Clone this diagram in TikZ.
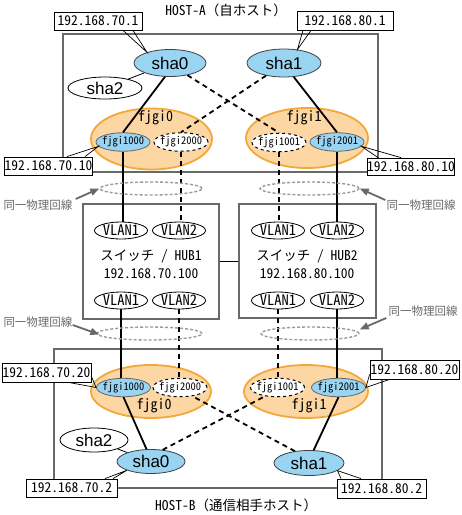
\documentclass[tikz,border=0pt]{standalone}
\usepackage{fontspec}
\setmainfont{Noto Sans CJK JP}
\newfontfamily\jpf{Noto Sans CJK JP}
\newfontfamily\hwf[RawFeature=+hwid]{Noto Sans CJK JP}
\newfontfamily\arf{Liberation Sans}
\usetikzlibrary{shapes.geometric,arrows.meta,calc}
\definecolor{skyb}{RGB}{153,212,242}
\definecolor{orfill}{RGB}{252,214,163}
\definecolor{ordraw}{RGB}{243,168,58}
\definecolor{hostgray}{RGB}{105,105,105}
\definecolor{dotgray}{RGB}{155,155,155}
\definecolor{labgray}{RGB}{105,105,105}
\begin{document}
\begin{tikzpicture}[x=1pt,y=-1pt,
  hostbox/.style={draw=hostgray,line width=1.1pt},
  hubbox/.style={rectangle,draw=hostgray,line width=1.1pt,fill=white,inner sep=0pt},
  oell/.style={ellipse,draw=ordraw,fill=orfill,line width=1.8pt,inner sep=0pt},
  shab/.style={ellipse,draw=black!75,fill=skyb,line width=0.8pt,inner sep=-6pt,font=\arf\fontsize{17}{17}\selectfont},
  shaw/.style={ellipse,draw=black,fill=white,line width=0.8pt,inner sep=-6pt,font=\arf\fontsize{17}{17}\selectfont},
  fb/.style={ellipse,draw=black!60,fill=skyb,line width=0.8pt,inner sep=-6pt,minimum width=54pt,minimum height=18.5pt,font=\hwf\fontsize{10.5}{10.5}\selectfont},
  fw/.style={ellipse,draw=black,dashed,fill=white,line width=1pt,inner sep=-6pt,minimum width=54pt,minimum height=18.5pt,font=\hwf\fontsize{10.5}{10.5}\selectfont},
  vlan/.style={ellipse,draw=black,fill=white,line width=0.8pt,inner sep=-6pt,minimum width=53pt,minimum height=17pt,font=\hwf\fontsize{14.5}{14.5}\selectfont},
  gname/.style={font=\hwf\fontsize{14}{14}\selectfont,inner sep=0pt},
  hubtxt/.style={font=\fontsize{13.5}{13.5}\selectfont,inner sep=0pt},
  title/.style={font=\fontsize{13.5}{13.5}\selectfont,inner sep=0pt},
  iplab/.style={rectangle,draw=black,fill=white,line width=0.8pt,inner sep=0pt,minimum height=18pt,font=\hwf\fontsize{13.5}{13.5}\selectfont},
  solidc/.style={line width=1.8pt,draw=black},
  dashc/.style={line width=1.8pt,draw=black,dash pattern=on 5pt off 4pt},
  dotell/.style={ellipse,draw=dotgray,line width=1.4pt,dash pattern=on 3pt off 2pt,inner sep=0pt},
  samelab/.style={font=\jpf\fontsize{11.5}{11.5}\selectfont,text=labgray,inner sep=0pt},
  garrow/.style={draw=labgray,line width=1.8pt,-{Triangle[length=9pt,width=7pt]}},
  callline/.style={draw=black,line width=0.7pt}
]
\useasboundingbox (0,0) rectangle (462,515);
\fill[white] (0,0) rectangle (462,515);

% host frames
\draw[hostbox] (63,34) rectangle (378,172);
\draw[hostbox] (54,349) rectangle (382,488);
\node[title] (ta) at (226,10) {{\hwf HOST-A}（自ホスト）};
\node[title] (tb) at (236,505) {{\hwf HOST-B}（通信相手ホスト）};

% hubs
\node[hubbox,minimum width=136pt,minimum height=115pt] (hub1) at (151,261.5) {};
\node[hubbox,minimum width=137pt,minimum height=114pt] (hub2) at (307.5,261) {};
\draw[line width=0.8pt] (hub1.east) -- (hub1.east -| hub2.west);
\node[hubtxt] (h1a) at (151,256) {スイッチ{\hwf\ / HUB1}};
\node[hubtxt] (h1b) at (151,273.5) {\hwf 192.168.70.100};
\node[hubtxt] (h2a) at (307,256) {スイッチ{\hwf\ / HUB2}};
\node[hubtxt] (h2b) at (307,273.5) {\hwf 192.168.80.100};
\node[vlan] (v11) at (121,230.5) {VLAN1};
\node[vlan] (v21) at (179,230.5) {VLAN2};
\node[vlan] (v12) at (121,300.5) {VLAN1};
\node[vlan] (v22) at (179,300.5) {VLAN2};
\node[vlan] (w11) at (278,230.5) {VLAN1};
\node[vlan] (w21) at (337,230.5) {VLAN2};
\node[vlan] (w12) at (278,300.5) {VLAN1};
\node[vlan] (w22) at (337,300.5) {VLAN2};

% HOST-A
\node[oell,minimum width=121pt,minimum height=61pt] (og0) at (151.5,139) {};
\node[oell,minimum width=122pt,minimum height=60pt] (og1) at (307,138) {};
\node[gname] (tg0) at (155.5,118) {fjgi0};
\node[gname] (tg1) at (304,118) {fjgi1};
\node[fb] (f1000) at (123,142) {fjgi1000};
\node[fw] (f2000) at (181,142) {fjgi2000};
\node[fw] (f1001) at (279,142.5) {fjgi1001};
\node[fb] (f2001) at (337,142) {fjgi2001};
\node[shab,minimum width=72pt,minimum height=27pt] (sha0) at (170,63) {sha0};
\node[shab,minimum width=74pt,minimum height=28pt] (sha1) at (284,63) {sha1};
\node[shaw,minimum width=74pt,minimum height=22pt] (sha2) at (105,88) {sha2};

% HOST-B
\node[oell,minimum width=120pt,minimum height=53pt] (og0b) at (151,391.5) {};
\node[oell,minimum width=124pt,minimum height=53pt] (og1b) at (306,391.5) {};
\node[gname] (tg0b) at (154,406) {fjgi0};
\node[gname] (tg1b) at (309,406) {fjgi1};
\node[fb] (f1000b) at (123.5,387.5) {fjgi1000};
\node[fw] (f2000b) at (180,387.5) {fjgi2000};
\node[fw] (f1001b) at (277.5,387.5) {fjgi1001};
\node[fb] (f2001b) at (338.5,387.5) {fjgi2001};
\node[shab,minimum width=68pt,minimum height=24pt] (sha0b) at (151,461.5) {sha0};
\node[shab,minimum width=70pt,minimum height=25pt] (sha1b) at (309,463) {sha1};
\node[shaw,minimum width=68pt,minimum height=24pt] (sha2b) at (94,440) {sha2};

% connectors HOST-A
\draw[line width=0.8pt] (sha0) -- (sha2);
\draw[solidc] (sha0.-110) -- (f1000.north);
\draw[dashc] (sha0.-35) -- (f1001.north);
\draw[dashc] (sha1.-145) -- (f2000.north);
\draw[solidc] (sha1.-55) -- (f2001.north);
% connectors HOST-B
\draw[line width=0.8pt] (sha0b) -- (sha2b);
\draw[solidc] (sha0b.110) -- (f1000b.south);
\draw[dashc] (sha0b.45) -- (f1001b.215);
\draw[dashc] (sha1b.140) -- (f2000b.-35);
\draw[solidc] (sha1b.70) -- (f2001b.south);

% vertical links
\draw[solidc] (f1000.south) -- (f1000.south |- v11.north);
\draw[dashc] (f2000.south) -- (f2000.south |- v21.north);
\draw[dashc] (f1001.south) -- (f1001.south |- w11.north);
\draw[solidc] (f2001.south) -- (f2001.south |- w21.north);
\draw[solidc] (v12.south) -- (v12.south |- f1000b.north);
\draw[dashc] (v22.south) -- (v22.south |- f2000b.north);
\draw[dashc] (w12.south) -- (w12.south |- f1001b.north);
\draw[solidc] (w22.south) -- (w22.south |- f2001b.north);

% same physical line markers
\node[dotell,minimum width=102pt,minimum height=13pt] (d1) at (151,188.5) {};
\node[dotell,minimum width=99pt,minimum height=13pt] (d2) at (309.5,188.5) {};
\node[dotell,minimum width=105pt,minimum height=13pt] (d3) at (149.5,333.5) {};
\node[dotell,minimum width=98pt,minimum height=13pt] (d4) at (310,333.5) {};
\node[samelab] (s1) at (38,205) {同一物理回線};
\node[samelab] (s2) at (421,205) {同一物理回線};
\node[samelab] (s3) at (38,322) {同一物理回線};
\node[samelab] (s4) at (423,311) {同一物理回線};
\draw[garrow] ($(s1.east)+(3,-6)$) -- (d1.west);
\draw[garrow] ($(s2.west)+(-1,-5)$) -- (d2.east);
\draw[garrow] ($(s3.east)+(0,3)$) -- ($(d3.west)+(3,1)$);
\draw[garrow] ($(s4.west)+(-2,7)$) -- ($(d4.east)+(0,-4)$);

% callouts
\node[iplab,minimum width=88pt] (l701) at (98,21) {192.168.70.1};
\draw[callline] ($(l701.south)+(25,0)$) -- (sha0.155) -- ($(l701.south)+(35,0)$);
\node[iplab,minimum width=96pt,minimum height=19pt] (l801) at (345,20.5) {192.168.80.1};
\draw[callline] ($(l801.south)+(-42,0)$) -- (sha1.45) -- ($(l801.south)+(-34,0)$);
\node[iplab,minimum width=81pt] (l7010) at (48.5,166) {192.168.70.10};
\draw[callline] ($(l7010.north)+(18.5,0)$) -- (f1000.190) -- ($(l7010.north)+(36.5,0)$);
\node[iplab,minimum width=82pt,minimum height=17pt] (l8010) at (411,166.5) {192.168.80.10};
\draw[callline] ($(l8010.north)+(-33,0)$) -- (f2001.-10) -- ($(l8010.north)+(-10,0)$);
\node[iplab,minimum width=89pt,minimum height=19pt] (l7020) at (46.5,372.5) {192.168.70.20};
\draw[callline] ($(l7020.south east)+(-23,0)$) -- (f1000b.180) -- ($(l7020.south east)+(0,-6)$);
\node[iplab,minimum width=91pt] (l702) at (71.5,488) {192.168.70.2};
\draw[callline] ($(l702.north)+(33.5,0)$) -- (sha0b.200) -- ($(l702.north)+(41.5,0)$);
\node[iplab,minimum width=89pt,minimum height=19pt] (l8020) at (414.5,369.5) {192.168.80.20};
\draw[callline] ($(l8020.south west)+(0,-5)$) -- (f2001b.0) -- ($(l8020.south west)+(20,0)$);
\node[iplab,minimum width=89pt,minimum height=19pt] (l802) at (381.5,488.5) {192.168.80.2};
\draw[callline] ($(l802.north)+(-40.5,0)$) -- (sha1b.-15) -- ($(l802.north)+(-20.5,0)$);
\end{tikzpicture}
\end{document}
